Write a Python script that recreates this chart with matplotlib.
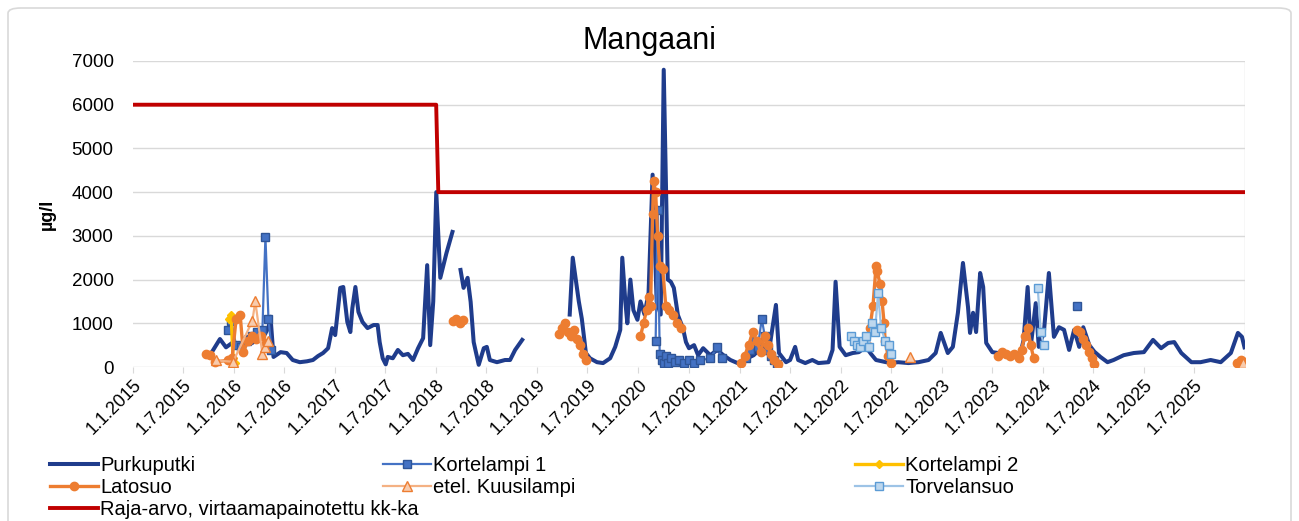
import numpy as np
import matplotlib
matplotlib.use("Agg")
import matplotlib.pyplot as plt
from matplotlib.patches import FancyBboxPatch
from matplotlib.transforms import ScaledTranslation

nan = np.nan

# ---- data (time in decimal years, values in ug/l); nan separates gaps ----
purku_t = [2015.78, 2015.86, 2015.92, 2015.98, 2016.06, 2016.12, 2016.18, 2016.24, 2016.29, 2016.34,
           2016.36, 2016.39, 2016.46, 2016.52, 2016.58, 2016.65, 2016.72, 2016.78, 2016.83, 2016.88,
           2016.93, 2016.97, 2017.00, 2017.05, 2017.08, 2017.12, 2017.15, 2017.17, 2017.20, 2017.23,
           2017.27, 2017.32, 2017.38, 2017.42, 2017.44, 2017.47, 2017.50, 2017.52, 2017.57, 2017.62,
           2017.67, 2017.72, 2017.77, 2017.82, 2017.87, 2017.91, 2017.94, 2017.97, 2018.00, 2018.04,
           2018.10, 2018.16, nan,
           2018.24, 2018.27, 2018.31, 2018.34, 2018.37, 2018.42, 2018.47, 2018.50, 2018.53, 2018.60,
           2018.68, 2018.73, 2018.78, 2018.85, nan,
           2019.32, 2019.35, 2019.38, 2019.41, 2019.44, 2019.48, 2019.52, 2019.59, 2019.65, 2019.72,
           2019.77, 2019.82, 2019.84, 2019.87, 2019.89, 2019.92, 2019.95, 2019.99, 2020.02, 2020.06,
           2020.10, 2020.14, 2020.18, 2020.22, 2020.25, 2020.29, 2020.32, 2020.35, 2020.39, 2020.44,
           2020.47, 2020.50, 2020.55, 2020.59, 2020.64, 2020.71, 2020.78, 2020.84, 2020.91, 2020.98,
           2021.04, 2021.14, 2021.24, 2021.29, 2021.36, 2021.39, 2021.46, 2021.50, 2021.55, 2021.58,
           2021.65, 2021.72, 2021.78, 2021.88, 2021.92, 2021.95, 2021.99, 2022.05, 2022.12, 2022.18,
           2022.25, 2022.30, 2022.35, 2022.45, 2022.51, 2022.57, 2022.67, 2022.77, 2022.87, 2022.94,
           2022.99, 2023.06, 2023.11, 2023.16, 2023.21, 2023.26, 2023.28, 2023.31, 2023.34, 2023.38,
           2023.41, 2023.44, 2023.50, 2023.56, 2023.63, 2023.70, 2023.78, 2023.81, 2023.85, 2023.88,
           2023.93, 2023.96, 2024.01, 2024.06, 2024.11, 2024.16, 2024.21, 2024.26, 2024.31, 2024.36,
           2024.40, 2024.46, 2024.51, 2024.57, 2024.64, 2024.70, 2024.80, 2024.90, 2025.00, 2025.09,
           2025.17, 2025.24, 2025.30, 2025.37, 2025.47, 2025.56, 2025.66, 2025.76, 2025.86, 2025.93,
           2025.97, 2025.995]
purku_v = [340, 640, 450, 550, 460, 700, 550, 650, 690, 900,
           1150, 230, 340, 320, 160, 110, 130, 160, 250, 320,
           430, 890, 730, 1810, 1830, 1030, 800, 1350, 1830, 1260,
           1030, 890, 960, 960, 570, 200, 60, 230, 200, 390,
           270, 300, 160, 430, 660, 2330, 500, 1500, 4000, 2040,
           2600, 3090, nan,
           2220, 1810, 2040, 1490, 570, 50, 430, 460, 160, 110,
           160, 160, 390, 620, nan,
           1200, 2500, 2000, 1500, 1100, 320, 200, 110, 90, 200,
           460, 850, 2500, 1500, 1000, 2000, 1300, 1080, 1500, 1200,
           1700, 4400, 1500, 1200, 6800, 2000, 1950, 1810, 1190, 890,
           570, 430, 500, 270, 430, 270, 390, 270, 160, 90,
           160, 270, 500, 350, 1420, 320, 110, 160, 460, 160,
           90, 160, 90, 110, 390, 1950, 460, 270, 320, 340,
           460, 300, 160, 110, 100, 110, 90, 110, 160, 320,
           780, 320, 460, 1240, 2380, 1370, 780, 1240, 800, 2150,
           1830, 550, 340, 320, 300, 250, 320, 620, 1830, 460,
           1460, 460, 780, 2150, 690, 910, 850, 390, 850, 460,
           910, 500, 350, 230, 110, 160, 270, 320, 340, 620,
           430, 550, 570, 320, 110, 110, 160, 110, 320, 780,
           690, 450]

korte1_t = [2015.94, 2015.97, 2016.02, 2016.07, 2016.13, 2016.18, 2016.23, 2016.28, 2016.31, 2016.34, 2016.37, nan,
            2020.17, 2020.19, 2020.21, 2020.23, 2020.25, 2020.27, 2020.29, 2020.32, 2020.36, 2020.40,
            2020.45, 2020.50, 2020.55, 2020.61, 2020.71, 2020.78, 2020.83, nan,
            2021.06, 2021.10, 2021.14, 2021.18, 2021.22, 2021.25, 2021.28, 2021.31, 2021.34, 2021.37, nan,
            2024.34]
korte1_v = [850, 1050, 500, 450, 600, 700, 800, 850, 2980, 1100, 400, nan,
            600, 3600, 300, 150, 100, 250, 100, 200, 120, 150,
            100, 150, 100, 150, 200, 450, 200, nan,
            200, 400, 600, 450, 1100, 700, 400, 250, 150, 80, nan,
            1400]

korte2_t = [2015.95, 2015.97, 2015.99, 2016.01]
korte2_v = [1100, 1200, 200, 100]

lato_t = [2015.72, 2015.76, 2015.81, 2015.94, 2015.98, 2016.02, 2016.06, 2016.09, 2016.14, 2016.18, 2016.22, 2016.27, 2016.32, nan,
          2018.17, 2018.20, 2018.23, 2018.26, nan,
          2019.21, 2019.24, 2019.27, 2019.30, 2019.33, 2019.36, 2019.39, 2019.42, 2019.45, 2019.48, nan,
          2020.02, 2020.05, 2020.08, 2020.10, 2020.12, 2020.14, 2020.15, 2020.17, 2020.19, 2020.21,
          2020.24, 2020.27, 2020.30, 2020.34, 2020.38, 2020.42, nan,
          2021.01, 2021.05, 2021.09, 2021.13, 2021.17, 2021.21, 2021.25, 2021.28, 2021.31, 2021.34, 2021.38, nan,
          2022.26, 2022.29, 2022.32, 2022.35, 2022.36, 2022.39, 2022.41, 2022.43, 2022.44, 2022.47, 2022.50, nan,
          2023.56, 2023.60, 2023.64, 2023.68, 2023.71, nan,
          2023.76, 2023.79, 2023.82, 2023.85, 2023.88, 2023.91, nan,
          2024.34, 2024.37, 2024.40, 2024.43, 2024.46, 2024.49, 2024.51, nan,
          2025.92, 2025.96, 2025.99]
lato_v = [300, 280, 120, 150, 200, 1100, 1200, 350, 600, 700, 650, 700, 550, nan,
          1050, 1100, 1000, 1080, nan,
          750, 900, 1000, 800, 700, 850, 650, 500, 300, 150, nan,
          700, 1000, 1300, 1600, 1400, 3500, 4250, 4000, 3000, 2300,
          2250, 1400, 1300, 1200, 1000, 900, nan,
          100, 250, 500, 800, 600, 350, 700, 500, 300, 150, 60, nan,
          500, 900, 1400, 2300, 2200, 1900, 1500, 1000, 600, 250, 100, nan,
          250, 350, 300, 250, 300, nan,
          200, 400, 700, 900, 500, 200, nan,
          850, 800, 650, 500, 350, 200, 80, nan,
          100, 150, 120]

kuusi_t = [2015.82, 2015.99, 2016.18, 2016.21, 2016.28, 2016.31, 2016.34, nan, 2022.69, nan, 2025.98]
kuusi_v = [150, 120, 1050, 1500, 300, 450, 600, nan, 230, nan, 100]

torve_t = [2022.10, 2022.13, 2022.16, 2022.19, 2022.22, 2022.25, 2022.28, 2022.31, 2022.34, 2022.37,
           2022.40, 2022.44, 2022.48, 2022.50, nan, 2023.95, 2023.98, 2024.01]
torve_v = [700, 600, 500, 450, 600, 700, 450, 1000, 800, 1700,
           900, 600, 500, 300, nan, 1800, 800, 500]

raja_t = [2015.0, 2017.999, 2018.02, 2025.995]
raja_v = [6000, 6000, 4000, 4000]

tick_years = list(range(2015, 2026))
title = "Mangaani"
ylabel = "µg/l"

# ---- figure ----
plt.rcParams['font.family'] = ['Liberation Sans', 'DejaVu Sans']
fig = plt.figure(figsize=(12.99, 5.21), dpi=100)
W, H = 1299, 521
fig.patches.append(FancyBboxPatch((8 / W, -0.05), 1283 / W, 1.05 - 8 / H,
                                  boxstyle="round,pad=0,rounding_size=0.01",
                                  transform=fig.transFigure, facecolor='white',
                                  edgecolor='#D9D9D9', linewidth=1.2, zorder=-5))

ax = fig.add_axes([133 / W, 1 - 367 / H, (1245 - 133) / W, (367 - 61) / H])
ax.set_facecolor('none')

blue_dark = '#1F3C8C'
orange = '#ED7D31'
c_k1 = '#4472C4'
c_k2 = '#FFC000'
c_kuusi = '#F4B183'
c_torve = '#9DC3E6'
red = '#C00000'

l_purku, = ax.plot(purku_t, purku_v, color=blue_dark, lw=2.9, zorder=3, solid_joinstyle='round')
l_k1, = ax.plot(korte1_t, korte1_v, color=c_k1, lw=1.6, marker='s', ms=5.5,
                mfc=c_k1, mec='#2F5597', mew=1.0, zorder=4)
l_k2, = ax.plot(korte2_t, korte2_v, color=c_k2, lw=2.4, marker='D', ms=4.5,
                mfc=c_k2, mec=c_k2, zorder=4)
l_lato, = ax.plot(lato_t, lato_v, color=orange, lw=2.4, marker='o', ms=6,
                  mfc=orange, mec=orange, zorder=5)
l_kuusi, = ax.plot(kuusi_t, kuusi_v, color=c_kuusi, lw=1.6, marker='^', ms=7,
                   mfc='#F8CBAD', mec=orange, mew=1.0, zorder=5)
l_torve, = ax.plot(torve_t, torve_v, color=c_torve, lw=1.6, marker='s', ms=5.5,
                   mfc='#BDD7EE', mec='#5B9BD5', mew=1.0, zorder=6)
l_raja, = ax.plot(raja_t, raja_v, color=red, lw=2.8, zorder=7)

ax.set_xlim(2015.0, 2026.0)
ax.set_ylim(0, 7000)
ax.set_yticks(range(0, 7001, 1000))
major = []
labels = []
for y in tick_years:
    major += [y, y + 181 / 365]
    labels += [f"1.1.{y}", f"1.7.{y}"]
ax.set_xticks(major)
ax.set_xticklabels(labels, rotation=45, ha='right', va='top', rotation_mode='anchor')
shift = ScaledTranslation(0.12, 0.03, fig.dpi_scale_trans)
for lab in ax.get_xticklabels():
    lab.set_transform(lab.get_transform() + shift)
ax.set_xticks(list(range(2015, 2027)), minor=True)
ax.grid(True, which='minor', axis='x', color='#D9D9D9', lw=1.0)
ax.grid(True, which='major', axis='y', color='#D9D9D9', lw=1.0)
ax.tick_params(axis='x', which='major', length=4, color='#D9D9D9', labelsize=13, pad=3)
ax.tick_params(axis='x', which='minor', length=0)
ax.tick_params(axis='y', length=0, labelsize=13.5, pad=14)
for s in ax.spines.values():
    s.set_visible(False)
ax.set_axisbelow(True)

ax.set_ylabel(ylabel, fontsize=13, fontweight='bold')
ax.yaxis.set_label_coords(-0.069, 0.5)

fig.text(0.5, 1 - 41 / H, title, ha='center', va='center', fontsize=22)

# legend: three columns placed like the original
common = dict(frameon=False, fontsize=14.5, handlelength=2.4, handletextpad=0.1,
              borderpad=0, borderaxespad=0, labelspacing=0.15, loc='upper left')
top = 1 - 456 / H
lg1 = fig.legend([l_purku, l_lato, l_raja],
                 ["Purkuputki", "Latosuo", "Raja-arvo, virtaamapainotettu kk-ka"],
                 bbox_to_anchor=(50 / W, top), **common)
lg2 = fig.legend([l_k1, l_kuusi], ["Kortelampi 1", "etel. Kuusilampi"],
                 bbox_to_anchor=(383 / W, top), **common)
lg3 = fig.legend([l_k2, l_torve], ["Kortelampi 2", "Torvelansuo"],
                 bbox_to_anchor=(855 / W, top), **common)

fig.savefig("out.png", dpi=100)
